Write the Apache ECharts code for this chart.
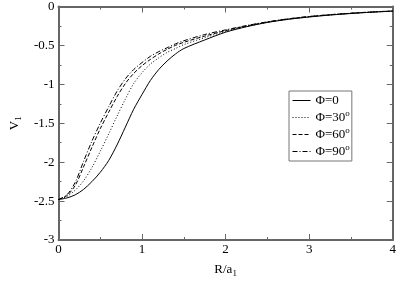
<!DOCTYPE html>
<html><head><meta charset="utf-8">
<script src="https://cdn.jsdelivr.net/npm/echarts@6/dist/echarts.min.js"></script>
<style>html,body{margin:0;padding:0;background:#fff}#c{width:399px;height:283px}</style>
</head><body><div id="c"></div>
<script>
var xs = [0,0.1,0.2,0.3,0.4,0.5,0.6,0.7,0.8,0.9,1.0,1.1,1.2,1.3,1.4,1.5,1.75,2.0,2.25,2.5,2.75,3.0,3.25,3.5,3.75,4.0];
var phi0  = [-2.48,-2.46,-2.42,-2.35,-2.25,-2.13,-1.98,-1.78,-1.55,-1.32,-1.13,-0.95,-0.81,-0.70,-0.61,-0.54,-0.43,-0.33,-0.26,-0.205,-0.165,-0.135,-0.11,-0.09,-0.073,-0.06];
var phi30 = [-2.48,-2.44,-2.36,-2.24,-2.07,-1.86,-1.64,-1.41,-1.19,-0.99,-0.85,-0.74,-0.66,-0.59,-0.54,-0.49,-0.40,-0.32,-0.255,-0.202,-0.162,-0.132,-0.108,-0.088,-0.072,-0.059];
var phi60 = [-2.48,-2.43,-2.30,-2.06,-1.81,-1.57,-1.36,-1.16,-0.99,-0.86,-0.76,-0.68,-0.61,-0.55,-0.50,-0.46,-0.38,-0.31,-0.25,-0.2,-0.16,-0.13,-0.106,-0.087,-0.071,-0.058];
var phi90 = [-2.48,-2.42,-2.26,-1.99,-1.73,-1.50,-1.29,-1.09,-0.93,-0.81,-0.72,-0.64,-0.58,-0.53,-0.48,-0.44,-0.36,-0.30,-0.245,-0.197,-0.158,-0.128,-0.105,-0.086,-0.07,-0.057];
var names = ['Φ=0','Φ=30°','Φ=60°','Φ=90°'];
var legendText = {'Φ=0':'Φ=0','Φ=30°':'Φ=30{s|o}','Φ=60°':'Φ=60{s|o}','Φ=90°':'Φ=90{s|o}'};
var dashes = ['solid',[1,2],[4,2],[5,2,1,2]];
var sets = [phi0,phi30,phi60,phi90];

function pairs(v){ return xs.map(function(x,i){return [x,v[i]];}); }
var font = 'Liberation Serif';
var axisCol = '#666';
function xa(pos, lbl){
  return {type:'value', min:0, max:4, interval:1, position:pos,
    axisLine:{show:true, onZero:false, lineStyle:{color:axisCol,width:2}},
    axisTick:{show:true, inside:true, length:6, lineStyle:{color:axisCol}},
    minorTick:{show:true, splitNumber:2, length:3, lineStyle:{color:axisCol}},
    splitLine:{show:false},
    axisLabel:{show:lbl, margin:3, color:'#000', fontFamily:font, fontSize:13},
    name: lbl ? '{a|R/a}{b|1}' : '', nameLocation:'middle', nameGap:21,
    nameTextStyle:{rich:{a:{fontFamily:font,fontSize:13,color:'#000'},b:{fontFamily:font,fontSize:9,color:'#000',verticalAlign:'bottom',padding:[8,0,0,0]}}}
  };
}
function ya(pos, lbl){
  return {type:'value', min:-3, max:0, interval:0.5, position:pos,
    axisLine:{show:true, onZero:false, lineStyle:{color:axisCol,width:2}},
    axisTick:{show:true, inside:true, length:6, lineStyle:{color:axisCol}},
    minorTick:{show:true, splitNumber:2, length:3, lineStyle:{color:axisCol}},
    splitLine:{show:false},
    axisLabel:{show:lbl, margin:4, color:'#000', fontFamily:font, fontSize:13},
    name: lbl ? '{a|V}{b|1}' : '', nameLocation:'middle', nameGap:33, nameRotate:90,
    nameTextStyle:{rich:{a:{fontFamily:font,fontSize:13,color:'#000'},b:{fontFamily:font,fontSize:9,color:'#000',verticalAlign:'bottom',padding:[8,0,0,0]}}}
  };
}
var chart = echarts.init(document.getElementById('c'), null, {renderer:'canvas'});
chart.setOption({
  animation:false,
  backgroundColor:'#fff',
  grid:{left:45, right:4, top:5, bottom:34},
  xAxis:[xa('bottom',true), xa('top',false)],
  yAxis:[ya('left',true), ya('right',false)],
  legend:{
    orient:'vertical', left:289, top:91,
    padding:[3,2,3,3], itemGap:2, itemWidth:18, itemHeight:14,
    borderColor:'#777', borderWidth:1, backgroundColor:'#fff',
    data:names,
    itemStyle:{opacity:0},
    lineStyle:{width:1},
    formatter:function(n){return legendText[n];},
    textStyle:{fontFamily:font,fontSize:13,color:'#000',rich:{s:{fontFamily:font,fontSize:9,verticalAlign:'top',padding:[0,0,8,0],color:'#000'}}}
  },
  series: sets.map(function(v,i){
    return {name:names[i], type:'line', smooth:0.3, showSymbol:false, symbol:'none',
      data:pairs(v), color:'#000',
      lineStyle:{color:'#000', width:1, type:dashes[i]}};
  })
});
</script></body></html>
